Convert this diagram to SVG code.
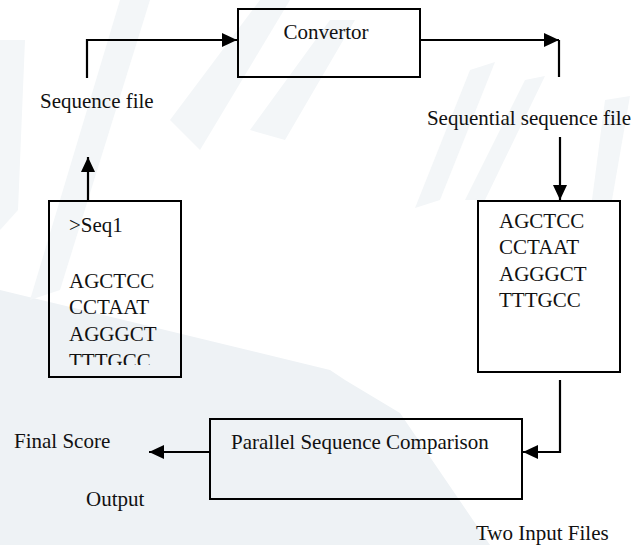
<svg xmlns="http://www.w3.org/2000/svg" width="644" height="545" viewBox="0 0 644 545">
<defs>
<style>
.t{font-size:21px;fill:#111}
.box{fill:none;stroke:#000;stroke-width:2}
.wire{fill:none;stroke:#000;stroke-width:2.2}
.wm{fill:#eef2f5}
.wm2{fill:#f3f6f8}
</style>
<marker id="ah" markerUnits="userSpaceOnUse" markerWidth="16" markerHeight="16" refX="15" refY="7" orient="auto">
<path d="M0,0 L15,7 L0,14 z" fill="#000"/>
</marker>
<clipPath id="clipL"><rect x="49" y="201" width="132" height="164"/></clipPath>
</defs>
<rect width="644" height="545" fill="#fff"/>
<g id="watermark">
<polygon class="wm" points="0,290 330,370 345,380 400,413 490,545 0,545"/>
<polygon class="wm2" points="0,40 25,40 18,210 0,230"/>
<polygon class="wm2" points="120,0 150,0 60,290 30,300"/>
<polygon class="wm2" points="170,120 260,0 290,0 200,150"/>
<polygon class="wm2" points="250,130 330,20 355,20 285,140"/>
<polygon class="wm2" points="470,70 495,62 440,200 415,208"/>
<polygon class="wm2" points="525,80 545,76 485,200 465,200"/>
<polygon class="wm2" points="605,100 630,96 612,200 592,200"/>
</g>
<g id="connectors">
<path class="wire" d="M87,78 V40 H237" marker-end="url(#ah)"/>
<path class="wire" d="M420,40 H559" marker-end="url(#ah)"/>
<path class="wire" d="M559,40 V77"/>
<path class="wire" d="M88,201 V157" marker-end="url(#ah)"/>
<path class="wire" d="M560,137 V200" marker-end="url(#ah)"/>
<path class="wire" d="M560,380 V452 H523" marker-end="url(#ah)"/>
<path class="wire" d="M210,452 H149" marker-end="url(#ah)"/>
</g>
<g font-family="'Liberation Serif', 'DejaVu Serif', 'Times New Roman', serif">
<g id="convertor">
<rect class="box" x="238" y="9" width="182" height="68"/>
<text class="t" x="326" y="39" text-anchor="middle">Convertor</text>
</g>
<g id="sequence-file-label">
<text class="t" x="40" y="108">Sequence file</text>
</g>
<g id="sequential-label">
<text class="t" x="631" y="125" text-anchor="end">Sequential sequence file</text>
</g>
<g id="input-file">
<rect class="box" x="49" y="201" width="132" height="176"/>
<g clip-path="url(#clipL)">
<text class="t" x="69" y="232">&gt;Seq1</text>
<text class="t" x="69" y="288">AGCTCC</text>
<text class="t" x="69" y="314">CCTAAT</text>
<text class="t" x="69" y="341">AGGGCT</text>
<text class="t" x="69" y="368">TTTGCC</text>
</g>
</g>
<g id="sequential-file">
<rect class="box" x="478" y="201" width="142" height="171"/>
<text class="t" x="499" y="228">AGCTCC</text>
<text class="t" x="499" y="254">CCTAAT</text>
<text class="t" x="499" y="281">AGGGCT</text>
<text class="t" x="499" y="307">TTTGCC</text>
</g>
<g id="parallel">
<rect class="box" x="210" y="419" width="312" height="80"/>
<text class="t" x="231" y="449">Parallel Sequence Comparison</text>
</g>
<g id="final-score">
<text class="t" x="14" y="448">Final Score</text>
</g>
<g id="output-label">
<text class="t" x="86" y="506">Output</text>
</g>
<g id="two-input-label">
<text class="t" x="476" y="540">Two Input Files</text>
</g>
</g>
</svg>
